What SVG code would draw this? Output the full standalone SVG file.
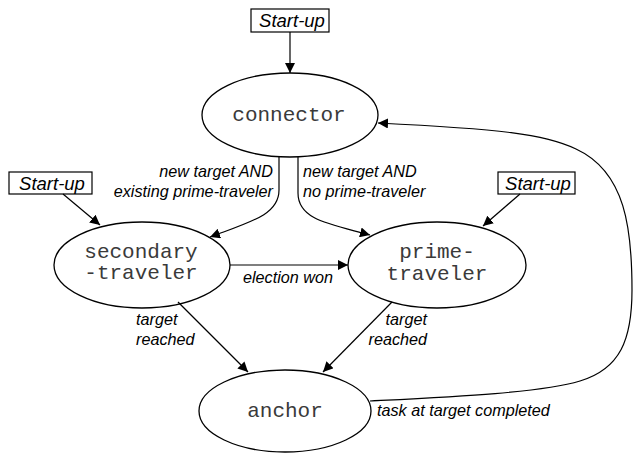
<svg xmlns="http://www.w3.org/2000/svg" width="635" height="453" viewBox="0 0 635 453">
<defs>
<marker id="arr" viewBox="0 0 10 10" refX="10" refY="5" markerWidth="10" markerHeight="10" markerUnits="userSpaceOnUse" orient="auto">
<path d="M0,0 L10,5 L0,10 Z" fill="#000"/>
</marker>
</defs>
<style>
.node ellipse{fill:#fff;stroke:#000;stroke-width:1.3}
.box{fill:#fff;stroke:#000;stroke-width:1.2}
.mono{font-family:"Liberation Mono","Courier New",monospace;font-size:21px;fill:#3a3a3a;text-anchor:middle}
.lbl{font-family:"Liberation Sans",Arial,Helvetica,sans-serif;font-style:italic;font-size:16.2px;fill:#000}
.su{font-family:"Liberation Sans",Arial,Helvetica,sans-serif;font-style:italic;font-size:18.5px;fill:#000;text-anchor:middle}
.edge{fill:none;stroke:#000;stroke-width:1.2;marker-end:url(#arr)}
</style>
<rect width="635" height="453" fill="#fff"/>

<g id="startup-top">
<rect class="box" x="251" y="9" width="78" height="23"/>
<text class="su" x="292" y="27">Start-up</text>
</g>
<g id="startup-left">
<rect class="box" x="9" y="172" width="83" height="22"/>
<text class="su" x="52" y="190">Start-up</text>
</g>
<g id="startup-right">
<rect class="box" x="498" y="172" width="77" height="22"/>
<text class="su" x="538" y="190">Start-up</text>
</g>

<g id="connector" class="node">
<ellipse cx="290" cy="115" rx="88" ry="42"/>
<text class="mono" x="289" y="121">connector</text>
</g>
<g id="secondary-traveler" class="node">
<ellipse cx="142" cy="265" rx="88" ry="43"/>
<text class="mono" x="141" y="258">secondary</text>
<text class="mono" x="141" y="279">-traveler</text>
</g>
<g id="prime-traveler" class="node">
<ellipse cx="437" cy="265" rx="89" ry="43"/>
<text class="mono" x="437" y="258">prime-</text>
<text class="mono" x="437" y="280">traveler</text>
</g>
<g id="anchor" class="node">
<ellipse cx="285" cy="411" rx="86" ry="41"/>
<text class="mono" x="285" y="417">anchor</text>
</g>

<g id="connectors">
<path class="edge" d="M290,32 L290,73"/>
<path class="edge" d="M63,194 L100,225"/>
<path class="edge" d="M520,194 L483,226"/>
<path class="edge" d="M279,157 L279,190 C279,215 250,222 210,237"/>
<path class="edge" d="M298,157 L298,193 C298,220 330,224 370,235"/>
<path class="edge" d="M230,265 L348,265"/>
<path class="edge" d="M178,302 L248,372"/>
<path class="edge" d="M392,302 L323,372"/>
<path class="edge" d="M370,401 C450,397 540,393 580,381 C620,369 632,340 632,290 C632,230 626,172 576,149 C545,134 500,129 378,123"/>

<text class="lbl" x="273" y="177" text-anchor="end">new target AND</text>
<text class="lbl" x="273" y="197" text-anchor="end">existing prime-traveler</text>
<text class="lbl" x="303" y="177">new target AND</text>
<text class="lbl" x="303" y="197">no prime-traveler</text>
<text class="lbl" x="243" y="283">election won</text>
<text class="lbl" x="136" y="325">target</text>
<text class="lbl" x="136" y="345">reached</text>
<text class="lbl" x="427" y="325" text-anchor="end">target</text>
<text class="lbl" x="427" y="345" text-anchor="end">reached</text>
<text class="lbl" x="377" y="416">task at target completed</text>
</g>
</svg>
